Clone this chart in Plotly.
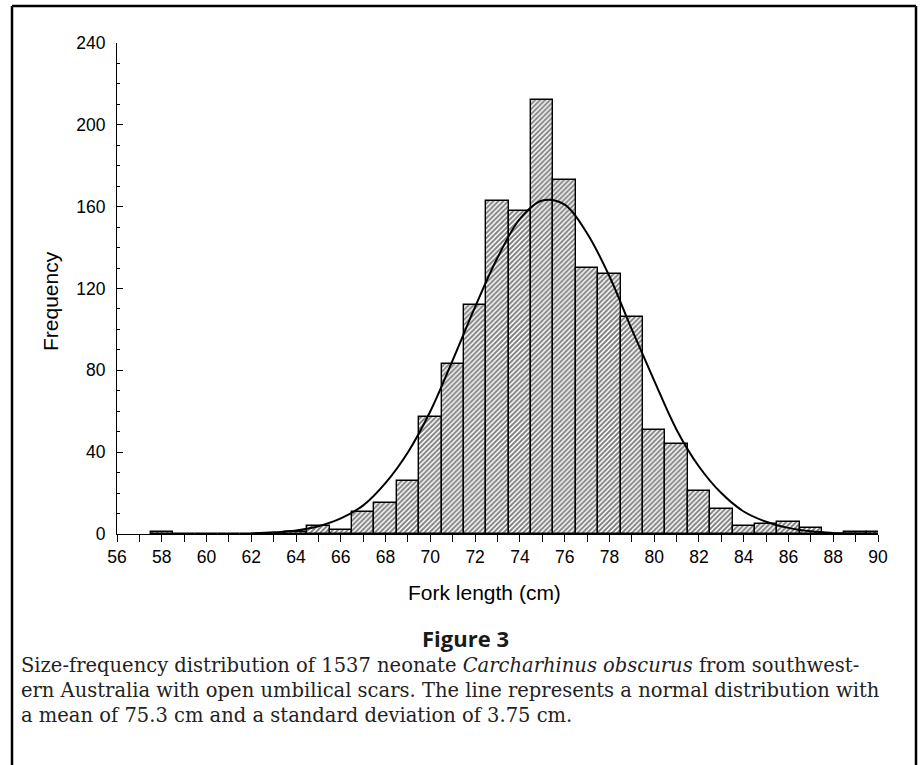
import plotly.graph_objects as go

# ---- data ----
fork_length = [58, 59, 60, 61, 62, 63, 64, 65, 66, 67, 68, 69, 70, 71, 72, 73, 74,
               75, 76, 77, 78, 79, 80, 81, 82, 83, 84, 85, 86, 87, 88, 89, 90]
frequency = [1, 0, 0, 0, 0, 0, 1, 4, 2, 11, 15, 26, 57, 83, 112, 163, 158,
             212, 173, 130, 127, 106, 51, 44, 21, 12, 4, 5, 6, 3, 0, 1, 1]

# normal curve (mean 75.3, sd 3.75)
curve_x = [62, 63, 64, 65, 66, 67, 68, 69, 70, 71, 72, 73, 74, 75, 76, 77, 78,
           79, 80, 81, 82, 83, 84, 85, 86, 87, 88, 89, 90]
curve_y = [0.3, 0.8, 1.7, 3.8, 7.6, 14, 25, 40, 60, 85, 111, 135, 154, 163, 161,
           147, 126, 100, 75, 51, 33, 20, 11, 6, 3, 1.3, 0.5, 0.2, 0.1]

x_title = "Fork length (cm)"
y_title = "Frequency"
fig_label = "Figure 3"
caption_lines = [
    "Size-frequency distribution of 1537 neonate <i>Carcharhinus obscurus</i> from southwest-",
    "ern Australia with open umbilical scars. The line represents a normal distribution with",
    "a mean of 75.3 cm and a standard deviation of 3.75 cm.",
]

W, H = 922, 765
L, R, T, B = 117, 44, 43, 231
pw, ph = W - L - R, H - T - B


def px(xp):
    return (xp - L) / pw


def py(yp):
    return (H - B - yp) / ph


fig = go.Figure()
fig.add_trace(go.Bar(
    x=fork_length, y=frequency, width=1,
    marker=dict(color="white",
                line=dict(color="black", width=1.4),
                pattern=dict(shape="/", fgcolor="black", bgcolor="white",
                             size=3.5, solidity=0.55)),
    showlegend=False,
))
fig.add_trace(go.Scatter(
    x=curve_x, y=curve_y, mode="lines",
    line=dict(color="black", width=2, shape="spline", smoothing=1.0),
    showlegend=False,
))

sans = "Liberation Sans, Arial, sans-serif"
fig.update_layout(
    width=W, height=H, autosize=False,
    margin=dict(l=L, r=R, t=T, b=B, pad=0),
    paper_bgcolor="white", plot_bgcolor="white",
    bargap=0,
    font=dict(family=sans, color="black"),
    xaxis=dict(range=[56, 90], tick0=56, dtick=2, ticks="outside", ticklen=7,
               tickwidth=1, tickcolor="black", showline=True, linecolor="black",
               linewidth=1, showgrid=False, zeroline=False,
               tickfont=dict(size=17.5, family=sans),
               minor=dict(dtick=1, ticks="outside", ticklen=7, tickcolor="black",
                          showgrid=False)),
    yaxis=dict(range=[0, 240], tick0=0, dtick=40, ticks="inside", ticklen=6,
               tickwidth=1, tickcolor="black", showline=True, linecolor="black",
               linewidth=1, showgrid=False, zeroline=False, ticklabelstandoff=7,
               tickfont=dict(size=17.5, family=sans),
               minor=dict(dtick=10, ticks="inside", ticklen=3, tickcolor="black",
                          showgrid=False)),
)

ann = []
ann.append(dict(text=y_title, x=px(50), y=py(301), xref="paper", yref="paper",
                textangle=-90, showarrow=False, xanchor="center", yanchor="middle",
                font=dict(size=21, family=sans)))
ann.append(dict(text=x_title, x=px(484), y=py(592), xref="paper", yref="paper",
                showarrow=False, xanchor="center", yanchor="middle",
                font=dict(size=21, family=sans)))
ann.append(dict(text="<b>" + fig_label + "</b>", x=px(465), y=py(638), xref="paper",
                yref="paper", showarrow=False, xanchor="center", yanchor="middle",
                font=dict(size=22, family="Open Sans, sans-serif", color="#1a1a1a")))
for line, yy in zip(caption_lines, [665, 690, 715]):
    ann.append(dict(text=line, x=px(19), y=py(yy), xref="paper", yref="paper",
                    showarrow=False, xanchor="left", yanchor="middle",
                    font=dict(size=19.5, family="DejaVu Serif, serif", color="#222")))
fig.update_layout(annotations=ann)

# open frame (left, top, right) around the figure
frame = dict(type="line", xref="paper", yref="paper",
             line=dict(color="black", width=2.5))
fig.add_shape(**frame, x0=px(12), x1=px(12), y0=py(6), y1=py(770))
fig.add_shape(**frame, x0=px(12), x1=px(916), y0=py(6), y1=py(6))
fig.add_shape(**frame, x0=px(916), x1=px(916), y0=py(6), y1=py(770))

fig.write_html("out.html")
